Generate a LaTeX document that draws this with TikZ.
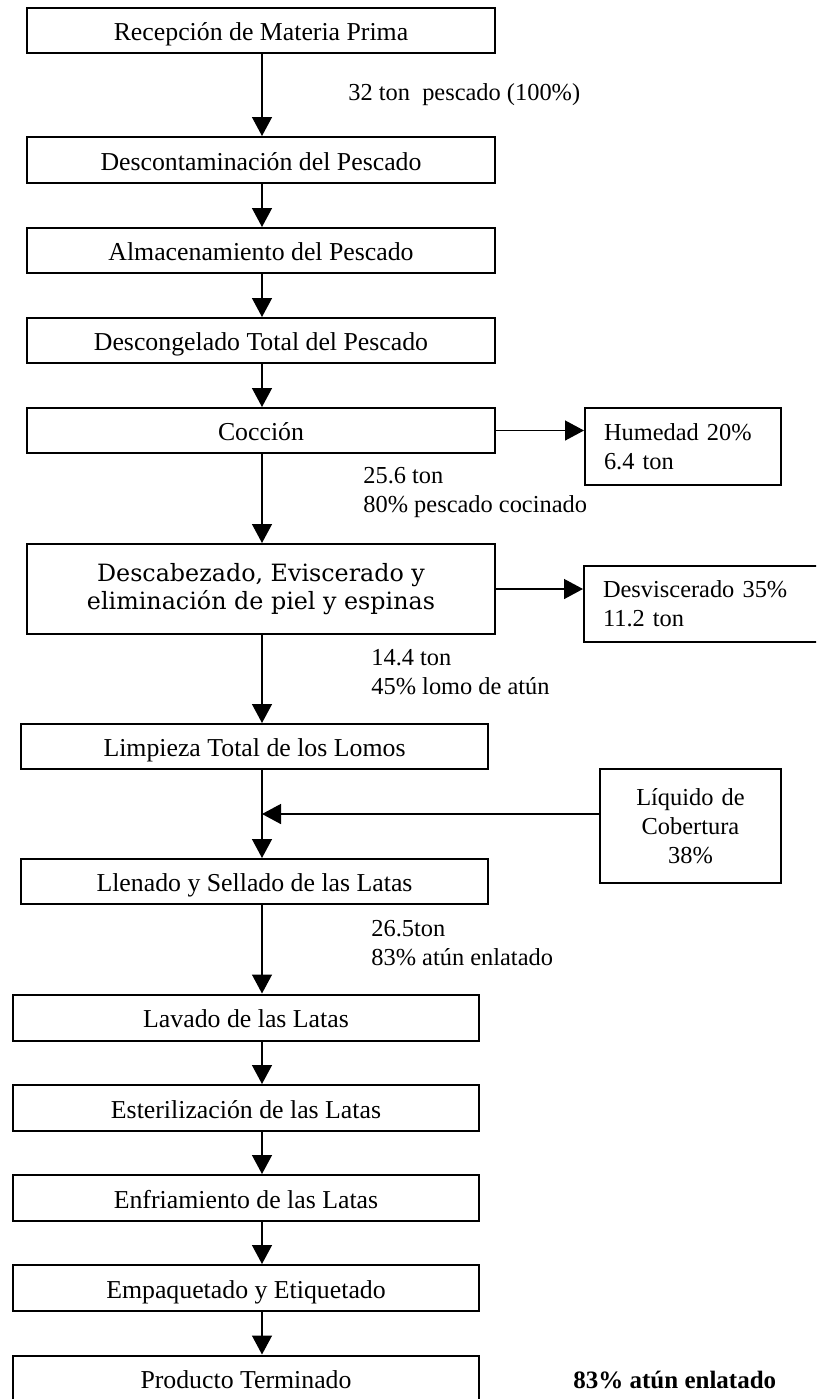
\documentclass[tikz,border=0pt]{standalone}
\usepackage{fontspec}
\setmainfont{Liberation Serif}
\newfontfamily\bookfont{DejaVu Serif}
\usepackage{tikz}
\usetikzlibrary{arrows.meta}

\begin{document}
\begin{tikzpicture}[x=0.5pt, y=-0.5pt,
  font=\fontsize{12.2}{14.5}\selectfont,
  paso/.style={draw, line width=1pt, minimum width=234pt, minimum height=22.5pt, inner sep=0pt, text height=10pt, text depth=0pt, font=\fontsize{12.9}{14.5}\selectfont},
  salida/.style={draw, line width=1pt, align=left, inner xsep=9.5pt, inner ysep=0pt},
  dato/.style={anchor=west, align=left, inner sep=0pt},
  flecha/.style={line width=0.7pt, -{Triangle[length=9.5pt, width=10pt]}}]
\useasboundingbox (0,0) rectangle (816,1399);
\clip (0,0) rectangle (816,1399);
\coordinate (eje) at (262,0);
% etapas del proceso
\node[paso] (b1) at (261,30) {Recepción de Materia Prima};
\node[paso, minimum height=23pt] (b2) at (261,160) {Descontaminación del Pescado};
\node[paso] (b3) at (261,250.5) {Almacenamiento del Pescado};
\node[paso] (b4) at (261,340.5) {Descongelado Total del Pescado};
\node[paso] (b5) at (261,430.5) {Cocción};
\node[draw, line width=1pt, minimum width=234pt, minimum height=45pt, inner sep=0pt, align=center, font=\bookfont\fontsize{11.9}{14}\selectfont] (b6) at (261,589) {Descabezado, Eviscerado y\\eliminación de piel y espinas};
\node[paso, minimum width=233.5pt] (b7) at (254.5,746.5) {Limpieza Total de los Lomos};
\node[paso, minimum width=233.5pt] (b8) at (254.5,881.5) {Llenado y Sellado de las Latas};
\node[paso, minimum width=233pt, minimum height=23pt] (b9) at (246,1017.5) {Lavado de las Latas};
\node[paso, minimum width=233pt, minimum height=23pt] (b10) at (246,1108) {Esterilización de las Latas};
\node[paso, minimum width=233pt, minimum height=23pt] (b11) at (246,1198) {Enfriamiento de las Latas};
\node[paso, minimum width=233pt, minimum height=23pt] (b12) at (246,1288) {Empaquetado y Etiquetado};
\node[paso, minimum width=233pt, minimum height=23pt] (b13) at (246,1378.5) {Producto Terminado};
% entradas y salidas laterales
\node[salida, text width=79pt, minimum height=38.5pt] (s1) at (683,446.5) {Humedad 20\%\\6.4 ton};
\node[salida, text width=111pt, minimum height=38pt] (s2) at (714,604) {Desviscerado 35\%\\11.2 ton};
\node[salida, align=center, text width=71.5pt, minimum height=57pt] (s3) at (690.5,826) {Líquido de\\Cobertura\\38\%};
% balances
\node[dato] (l1) at (348,95) {32 ton\ \ pescado (100\%)};
\node[dato] (l2) at (363,492.5) {25.6 ton\\80\% pescado cocinado};
\node[dato] (l3) at (371,672.5) {14.4 ton\\45\% lomo de atún};
\node[dato] (l4) at (371,943.5) {26.5ton\\83\% atún enlatado};
\node[dato, font=\fontsize{12.5}{14.5}\selectfont\bfseries] (l5) at (573,1380) {83\% atún enlatado};
\coordinate (m) at (262,814);
% flechas
\draw[flecha] (b1.south -| eje) -- (b2.north -| eje);
\draw[flecha] (b2.south -| eje) -- (b3.north -| eje);
\draw[flecha] (b3.south -| eje) -- (b4.north -| eje);
\draw[flecha] (b4.south -| eje) -- (b5.north -| eje);
\draw[flecha] (b5.south -| eje) -- (b6.north -| eje);
\draw[flecha] (b6.south -| eje) -- (b7.north -| eje);
\draw[flecha] (b7.south -| eje) -- (b8.north -| eje);
\draw[flecha] (b8.south -| eje) -- (b9.north -| eje);
\draw[flecha] (b9.south -| eje) -- (b10.north -| eje);
\draw[flecha] (b10.south -| eje) -- (b11.north -| eje);
\draw[flecha] (b11.south -| eje) -- (b12.north -| eje);
\draw[flecha] (b12.south -| eje) -- (b13.north -| eje);
\draw[flecha] (b5.east) -- (s1.west |- b5.east);
\draw[flecha] (b6.east) -- (s2.west |- b6.east);
\draw[flecha] (s3.west |- m) -- (m);
\end{tikzpicture}
\end{document}
